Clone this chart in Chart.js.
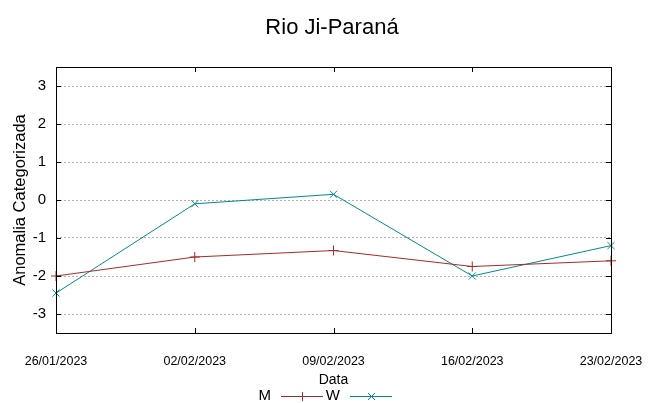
<!DOCTYPE html>
<html>
<head>
<meta charset="utf-8">
<script src="https://cdn.jsdelivr.net/npm/chart.js@4"></script>
<style>
  html, body { margin: 0; padding: 0; background: #fff; }
  #wrap { width: 650px; height: 403px; }
</style>
</head>
<body>
<div id="wrap"><canvas id="anomChart" width="650" height="403"></canvas></div>
<script>
const datas = ['26/01/2023', '02/02/2023', '09/02/2023', '16/02/2023', '23/02/2023'];
const serieM = [-2.0, -1.5, -1.33, -1.75, -1.6];
const serieW = [-2.45, -0.1, 0.15, -2.0, -1.2];
const yTicks = [-3, -2, -1, 0, 1, 2, 3];

const corM = '#a52a2a';
const corW = '#008b8b';
const fonte = "'Liberation Sans', Arial, sans-serif";

// frame with inward ticks on all four sides, plus the key under the axis title
const moldura = {
    id: 'moldura',
    afterDraw(chart) {
        const ctx = chart.ctx;
        const a = chart.chartArea;
        const xs = chart.scales.x, ys = chart.scales.y;
        ctx.save();
        ctx.strokeStyle = '#000';
        ctx.lineWidth = 1;
        ctx.strokeRect(Math.round(a.left) + 0.5, Math.round(a.top) + 0.5,
            Math.round(a.right - a.left), Math.round(a.bottom - a.top));
        ctx.beginPath();
        yTicks.forEach(v => {
            const y = Math.round(ys.getPixelForValue(v)) + 0.5;
            ctx.moveTo(a.left, y); ctx.lineTo(a.left + 5, y);
            ctx.moveTo(a.right, y); ctx.lineTo(a.right - 5, y);
        });
        datas.forEach((d, i) => {
            const x = Math.round(xs.getPixelForValue(i)) + 0.5;
            ctx.moveTo(x, a.bottom); ctx.lineTo(x, a.bottom - 5);
            ctx.moveTo(x, a.top); ctx.lineTo(x, a.top + 5);
        });
        ctx.stroke();

        // key
        const ky = 396;
        const itens = [
            { nome: 'M', cor: corM, x: 271, marca: '+' },
            { nome: 'W', cor: corW, x: 340, marca: 'x' }
        ];
        ctx.font = '15px ' + fonte;
        ctx.textBaseline = 'middle';
        ctx.textAlign = 'right';
        itens.forEach(it => {
            ctx.fillStyle = '#000';
            ctx.fillText(it.nome, it.x, ky);
            const x0 = it.x + 10, x1 = it.x + 52, xm = (x0 + x1) / 2;
            ctx.strokeStyle = it.cor;
            ctx.beginPath();
            ctx.moveTo(x0, ky + 0.5); ctx.lineTo(x1, ky + 0.5);
            if (it.marca === '+') {
                ctx.moveTo(xm + 0.5, ky - 4); ctx.lineTo(xm + 0.5, ky + 5);
            } else {
                ctx.moveTo(xm - 3, ky - 3); ctx.lineTo(xm + 4, ky + 4);
                ctx.moveTo(xm - 3, ky + 4); ctx.lineTo(xm + 4, ky - 3);
            }
            ctx.stroke();
        });
        ctx.restore();
    }
};

const ctx = document.getElementById('anomChart').getContext('2d');
new Chart(ctx, {
    type: 'line',
    data: {
        labels: datas,
        datasets: [{
            label: 'M',
            data: serieM,
            borderColor: corM,
            backgroundColor: corM,
            borderWidth: 1,
            pointStyle: 'cross',
            pointRadius: 5,
            pointBorderWidth: 1,
            tension: 0
        }, {
            label: 'W',
            data: serieW,
            borderColor: corW,
            backgroundColor: corW,
            borderWidth: 1,
            pointStyle: 'crossRot',
            pointRadius: 5,
            pointBorderWidth: 1,
            tension: 0
        }]
    },
    options: {
        responsive: false,
        animation: false,
        layout: { padding: { left: 14, right: 0, top: 0, bottom: 0 } },
        plugins: {
            legend: { display: false },
            tooltip: { enabled: false },
            title: {
                display: true,
                text: 'Rio Ji-Paraná',
                color: '#000',
                font: { family: fonte, size: 22, weight: 'normal' },
                padding: { top: 15, bottom: 25.6 }
            }
        },
        scales: {
            x: {
                type: 'category',
                offset: false,
                grid: { display: false, drawTicks: false },
                border: { display: false },
                ticks: {
                    color: '#000',
                    font: { family: fonte, size: 12.5 },
                    padding: 21,
                    maxRotation: 0,
                    autoSkip: false
                },
                title: {
                    display: true,
                    text: 'Data',
                    color: '#000',
                    font: { family: fonte, size: 14 },
                    padding: { top: 0, bottom: 14.6 }
                },
                afterFit(scale) {
                    scale.height = 70;
                    scale.paddingLeft = 0;
                    scale.paddingRight = 39;
                }
            },
            y: {
                min: -3.5,
                max: 3.5,
                grid: {
                    color: '#b0b0b0',
                    lineWidth: 1,
                    drawTicks: false
                },
                border: { display: false, dash: [2, 2] },
                ticks: {
                    stepSize: 1,
                    color: '#000',
                    font: { family: fonte, size: 15 },
                    padding: 10
                },
                afterBuildTicks(scale) {
                    scale.ticks = yTicks.map(v => ({ value: v }));
                },
                title: {
                    display: true,
                    text: 'Anomalia Categorizada',
                    color: '#000',
                    font: { family: fonte, size: 16.5 },
                    padding: { top: -3, bottom: 0 }
                },
                afterFit(scale) {
                    scale.width = 42;
                    scale.paddingTop = 0;
                    scale.paddingBottom = 0;
                }
            }
        }
    },
    plugins: [moldura]
});
</script>
</body>
</html>
